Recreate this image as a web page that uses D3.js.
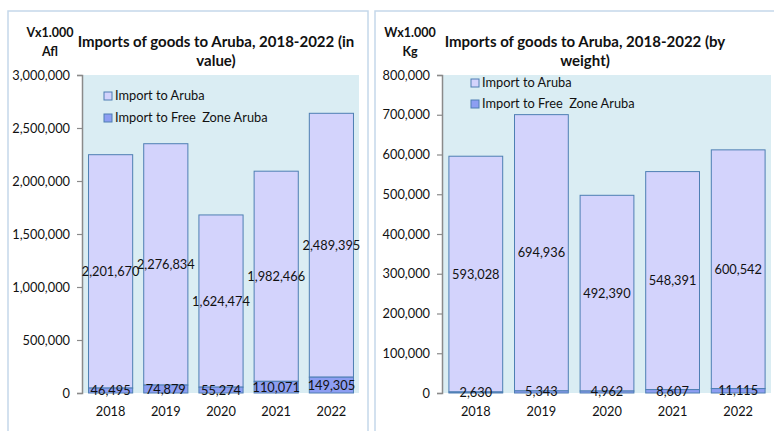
<!DOCTYPE html>
<html><head><meta charset="utf-8">
<script src="https://cdn.jsdelivr.net/npm/d3@7"></script>
<style>
html,body{margin:0;padding:0;background:#fff;}
svg{display:block;font-family:Lato, "Open Sans", sans-serif;}
text{white-space:pre;}
</style></head>
<body>
<svg id="c" width="774" height="431"></svg>
<script>
const years = ["2018","2019","2020","2021","2022"];
const valueAruba = [2201670, 2276834, 1624474, 1982466, 2489395];
const valueFreeZone = [46495, 74879, 55274, 110071, 149305];
const weightAruba = [593028, 694936, 492390, 548391, 600542];
const weightFreeZone = [2630, 5343, 4962, 8607, 11115];
const valueTicks = [0, 500000, 1000000, 1500000, 2000000, 2500000, 3000000];
const weightTicks = [0, 100000, 200000, 300000, 400000, 500000, 600000, 700000, 800000];
const seriesNames = ["Import to Aruba", "Import to Free  Zone Aruba"];

const svg = d3.select("#c");
const fmt = d3.format(",");
const colAruba = "#d3d3fc", colFZ = "#8d9ef2", stroke = "#4e7fb3", plotBg = "#daedf3";

function panel(cfg){
  const g = svg.append("g");
  g.append("rect").attr("x", cfg.px).attr("y", 11).attr("width", cfg.pw).attr("height", 440)
    .attr("fill", "#fff").attr("stroke", "#c5d8ea").attr("stroke-width", 1.5);
  const x = d3.scaleBand().domain(years).range([cfg.x0, cfg.x1]).paddingInner(cfg.pi).paddingOuter(cfg.po);
  const y = d3.scaleLinear().domain([0, cfg.max]).range([393, 75]);
  g.append("rect").attr("x", cfg.x0).attr("y", 75).attr("width", cfg.x1 - cfg.x0).attr("height", 318).attr("fill", plotBg);
  const ax = g.append("g").attr("transform", `translate(${cfg.x0 - 1},0)`)
    .call(d3.axisLeft(y).tickValues(cfg.ticks).tickFormat(fmt).tickSize(5).tickPadding(7));
  ax.select(".domain").attr("stroke", "#8a8a8a").attr("stroke-width", 1.5);
  ax.selectAll(".tick line").attr("stroke", "#8a8a8a").attr("stroke-width", 1.2);
  ax.selectAll("text").attr("font-size", "12.8px").attr("fill", "#111").attr("font-family", "Lato");
  g.selectAll(".xl").data(years).enter().append("text")
    .attr("x", d => x(d) + x.bandwidth()/2).attr("y", 416).attr("text-anchor", "middle")
    .attr("font-size", "12.8px").attr("fill", "#111").text(d => d);
  years.forEach((yr, i) => {
    const fz = cfg.fz[i], ar = cfg.ar[i];
    g.append("rect").attr("x", x(yr)).attr("width", x.bandwidth())
      .attr("y", y(fz + ar)).attr("height", y(fz) - y(fz + ar))
      .attr("fill", colAruba).attr("stroke", stroke).attr("stroke-width", 1);
    g.append("rect").attr("x", x(yr)).attr("width", x.bandwidth())
      .attr("y", y(fz)).attr("height", y(0) - y(fz))
      .attr("fill", colFZ).attr("stroke", stroke).attr("stroke-width", 1);
  });
  years.forEach((yr, i) => {
    const fz = cfg.fz[i], ar = cfg.ar[i];
    g.append("text").attr("x", x(yr) + x.bandwidth()/2).attr("y", y(fz + ar/2)).attr("dy", "0.35em")
      .attr("text-anchor", "middle").attr("font-size", "12.8px").attr("fill", "#111").text(fmt(ar));
    g.append("text").attr("x", x(yr) + x.bandwidth()/2).attr("y", y(fz/2)).attr("dy", "0.35em")
      .attr("text-anchor", "middle").attr("font-size", "12.8px").attr("fill", "#111").text(fmt(fz));
  });
  [colAruba, colFZ].forEach((c, i) => {
    const ly = cfg.ly + i * cfg.lgap;
    g.append("rect").attr("x", cfg.lx).attr("y", ly - 4).attr("width", 8).attr("height", 8)
      .attr("fill", c).attr("stroke", stroke).attr("stroke-width", 1);
    g.append("text").attr("x", cfg.lx + 11).attr("y", ly).attr("dy", "0.35em")
      .attr("font-size", "12.8px").attr("fill", "#111").text(seriesNames[i]);
  });
  cfg.unit.forEach((t, i) => {
    g.append("text").attr("x", cfg.ux).attr("y", 37 + i * 19).attr("text-anchor", "middle")
      .attr("font-size", "12.5px").attr("font-weight", "bold").attr("fill", "#111").text(t);
  });
  cfg.title.forEach((t, i) => {
    g.append("text").attr("x", cfg.tx).attr("y", 47 + i * 19).attr("text-anchor", "middle")
      .attr("font-size", "15px").attr("font-weight", "bold").attr("fill", "#111").text(t);
  });
}

panel({px: 8, pw: 360, x0: 83, x1: 359, pi: 0.2, po: 0.1, max: 3000000, ticks: valueTicks,
  ar: valueAruba, fz: valueFreeZone, lx: 104, ly: 96, lgap: 22, ux: 50, unit: ["Vx1.000", "Afl"],
  tx: 216, title: ["Imports of goods to Aruba, 2018-2022 (in", "value)"]});
panel({px: 375, pw: 410, x0: 443, x1: 771, pi: 0.18, po: 0.09, max: 800000, ticks: weightTicks,
  ar: weightAruba, fz: weightFreeZone, lx: 471, ly: 83, lgap: 21, ux: 410, unit: ["Wx1.000", "Kg"],
  tx: 585, title: ["Imports of goods to Aruba, 2018-2022 (by", "weight)"]});
</script>
</body></html>
